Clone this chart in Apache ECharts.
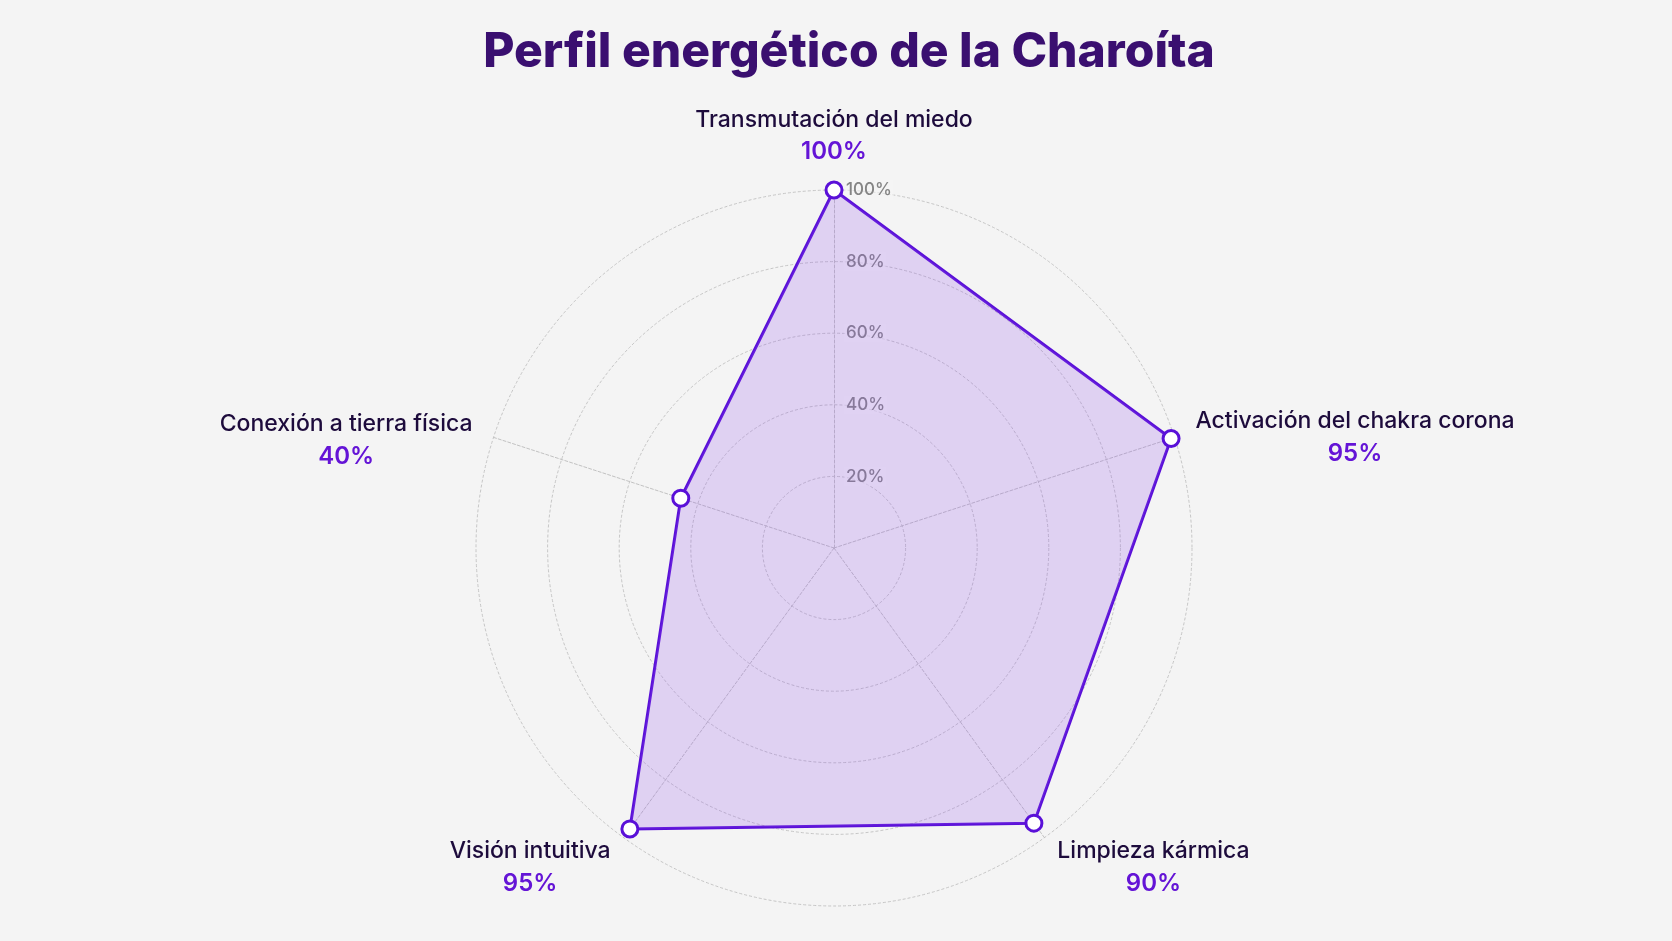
<!DOCTYPE html>
<html>
<head>
<meta charset="utf-8">
<script src="https://cdn.jsdelivr.net/npm/echarts@6/dist/echarts.min.js"></script>
<style>
  html, body { margin: 0; padding: 0; background: #f4f4f4; }
  #chart { width: 1672px; height: 941px; }
</style>
</head>
<body>
<div id="chart"></div>
<script>
// Indicators in drawing order (top first, then counter-clockwise)
const indicatorNames = [
  'Transmutación del miedo',
  'Conexión a tierra física',
  'Visión intuitiva',
  'Limpieza kármica',
  'Activación del chakra corona'
];
// Percentages printed under each indicator name
const labelPercent = [100, 40, 95, 90, 95];
// Plotted positions of the polygon vertices
const plotted = [100, 45, 97, 95, 99];
const axisMax = 100;
const ringTicks = [20, 40, 60, 80, 100];

// vertical nudge (px) of each name block
const nameShift = [0, 10, 12, 12, 7];

const rich = {};
indicatorNames.forEach((n, i) => {
  rich['s' + i] = { fontSize: 1, lineHeight: Math.max(1, nameShift[i] * 2), color: 'transparent' };
  rich['n' + i] = {
    fontFamily: 'Inter', fontSize: 23, fontWeight: 500, color: '#1d0b3c',
    lineHeight: 32, align: 'center'
  };
  rich['v' + i] = {
    fontFamily: 'Inter', fontSize: 24, fontWeight: 600, color: '#6414d6',
    lineHeight: 32, align: 'center'
  };
});

const chart = echarts.init(document.getElementById('chart'));
chart.setOption({
  backgroundColor: '#f4f4f4',
  title: {
    text: 'Perfil energético de la Charoíta',
    left: 844,
    textAlign: 'center',
    top: 24,
    textStyle: { fontFamily: 'Inter', fontSize: 48, fontWeight: 800, color: '#3a0f70' }
  },
  radar: {
    center: [834, 548],
    radius: 358,
    startAngle: 90,
    shape: 'circle',
    splitNumber: ringTicks.length,
    nameGap: 22,
    indicator: indicatorNames.map((n, i) => ({
      name: n, min: 0, max: axisMax,
      axisLabel: { show: i === 0 }
    })),
    axisName: {
      formatter: function (name) {
        const i = indicatorNames.indexOf(name);
        const head = nameShift[i] > 0 ? '{s' + i + '| }\n' : '';
        return head + '{n' + i + '|' + name + '}\n{v' + i + '|' + labelPercent[i] + '%}';
      },
      rich: rich
    },
    axisLine: { lineStyle: { color: '#c2c2c2', width: 1, type: [3, 2] } },
    splitLine: { lineStyle: { color: '#c6c6c6', width: 1, type: [3, 2] } },
    splitArea: { show: false },
    axisTick: { show: false },
    axisLabel: {
      show: false,
      showMinLabel: false,
      formatter: '{value}%',
      color: '#858585',
      fontFamily: 'Inter',
      fontSize: 17,
      fontWeight: 500,
      margin: -10,
      align: 'left',
      backgroundColor: 'rgba(246,246,246,0.55)',
      padding: [1, 2]
    }
  },
  series: [{
    type: 'radar',
    symbol: 'circle',
    symbolSize: 16,
    itemStyle: { color: '#ffffff', borderColor: '#5a10d8', borderWidth: 3 },
    lineStyle: { color: '#5a10d8', width: 3 },
    areaStyle: { color: 'rgba(145,80,235,0.3)' },
    data: [{ value: plotted, name: 'Charoíta' }]
  }]
});
</script>
</body>
</html>
